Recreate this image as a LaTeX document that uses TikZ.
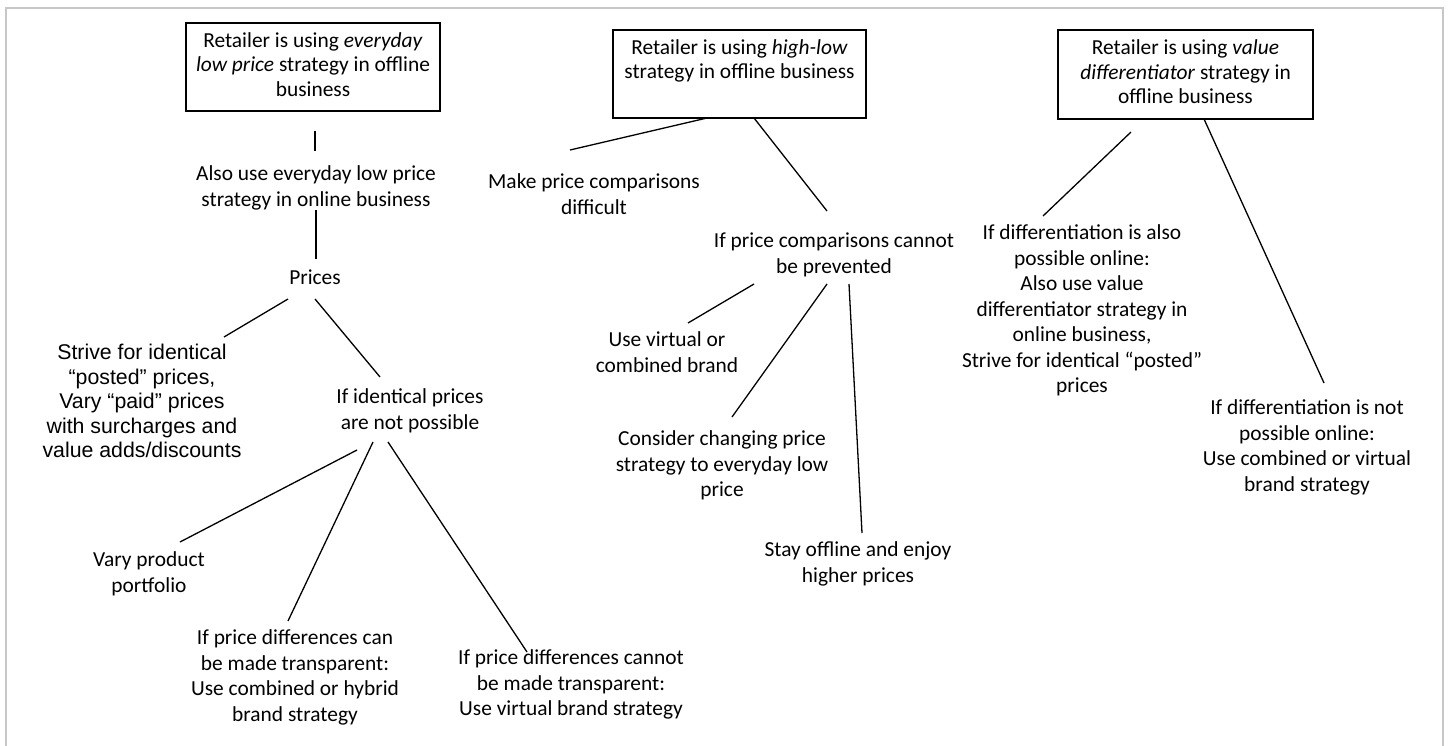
\documentclass[tikz,border=0pt]{standalone}
\usepackage{fontspec}
\setmainfont{Carlito}
\newfontfamily\arialfont{Liberation Sans}
\begin{document}
\begin{tikzpicture}[x=1pt,y=-1pt,
  txt/.style={font=\fontsize{21.4}{25.5}\selectfont, align=center, inner sep=0pt, anchor=north},
  arialtxt/.style={font=\arialfont\fontsize{21.3}{24.5}\selectfont, align=center, inner sep=0pt, anchor=north},
  box/.style={draw, line width=1.6pt, font=\fontsize{21.4}{24.5}\selectfont, align=center, inner sep=0pt},
  conn/.style={line width=1.3pt},
  frame/.style={draw=black!22, line width=2.5pt}]
\useasboundingbox (0,0) rectangle (1448,745);
\draw[frame] (6,750) -- (6,8) -- (1443,8) -- (1443,750);

% boxes
\node[box, minimum width=254pt, minimum height=88pt] (b1) at (313,67)
  {\strut Retailer is using \textit{everyday}\\\textit{low price} strategy in offline\\business\strut};
\node[box, minimum width=253pt, minimum height=88pt] (b2) at (739.5,74)
  {\strut Retailer is using \textit{high-low}\\strategy in offline business\\\strut};
\node[box, minimum width=255pt, minimum height=89pt] (b3) at (1185.5,74.5)
  {\strut Retailer is using \textit{value}\\\textit{differentiator} strategy in\\offline business\strut};

% left branch
\node[txt] (also) at (316,162.5) {\strut Also use everyday low price\\strategy in online business\strut};
\node[txt] (prices) at (315,266.5) {\strut Prices\strut};
\node[arialtxt] (strive) at (142,342.5) {\strut Strive for identical\\“posted” prices,\\Vary “paid” prices\\with surcharges and\\value adds/discounts\strut};
\node[txt] (ifident) at (410,385.5) {\strut If identical prices\\are not possible\strut};
\node[txt] (vary) at (149,548.5) {\strut Vary product\\portfolio\strut};
\node[txt] (ifcan) at (295,626.5) {\strut If price differences can\\be made transparent:\\Use combined or hybrid\\brand strategy\strut};
\node[txt] (ifcannot) at (571,646.5) {\strut If price differences cannot\\be made transparent:\\Use virtual brand strategy\strut};

% middle branch
\node[txt] (make) at (594,170.5) {\strut Make price comparisons\\difficult\strut};
\node[txt] (ifcomp) at (834,229.5) {\strut If price comparisons cannot\\be prevented\strut};
\node[txt] (usevirt) at (667,328.5) {\strut Use virtual or\\combined brand\strut};
\node[txt] (consider) at (722,427.5) {\strut Consider changing price\\strategy to everyday low\\price\strut};
\node[txt] (stay) at (858,538.5) {\strut Stay offline and enjoy\\higher prices\strut};

% right branch
\node[txt] (diffalso) at (1082,221.5) {\strut If differentiation is also\\possible online:\\Also use value\\differentiator strategy in\\online business,\\Strive for identical “posted”\\prices\strut};
\node[txt] (diffnot) at (1307,396.5) {\strut If differentiation is not\\possible online:\\Use combined or virtual\\brand strategy\strut};

% connector end points
\coordinate (b1a) at (315,131);   \coordinate (alsoa) at (315,151);
\coordinate (alsob) at (316,210); \coordinate (pricesa) at (316,259);
\coordinate (pricesb) at (288,299); \coordinate (strivea) at (224,337);
\coordinate (pricesc) at (315,299); \coordinate (identa) at (380,377);
\coordinate (identb) at (357,450); \coordinate (varya) at (180,542);
\coordinate (identc) at (373,442); \coordinate (ifcana) at (288,621);
\coordinate (identd) at (388,442); \coordinate (ifcannota) at (527,652);
\coordinate (b2a) at (707,118); \coordinate (makea) at (570,150);
\coordinate (b2b) at (754,118); \coordinate (ifcompa) at (827,211);
\coordinate (ifcompb) at (754,284); \coordinate (usevirta) at (688,323);
\coordinate (ifcompc) at (827,284); \coordinate (considera) at (732,417);
\coordinate (ifcompd) at (849,284); \coordinate (staya) at (862,533);
\coordinate (b3a) at (1131,132); \coordinate (diffalsoa) at (1043,216);
\coordinate (b3b) at (1204,119); \coordinate (diffnota) at (1324,383);

\draw[conn] (b1a) -- (alsoa);
\draw[conn] (alsob) -- (pricesa);
\draw[conn] (pricesb) -- (strivea);
\draw[conn] (pricesc) -- (identa);
\draw[conn] (identb) -- (varya);
\draw[conn] (identc) -- (ifcana);
\draw[conn] (identd) -- (ifcannota);
\draw[conn] (b2a) -- (makea);
\draw[conn] (b2b) -- (ifcompa);
\draw[conn] (ifcompb) -- (usevirta);
\draw[conn] (ifcompc) -- (considera);
\draw[conn] (ifcompd) -- (staya);
\draw[conn] (b3a) -- (diffalsoa);
\draw[conn] (b3b) -- (diffnota);
\end{tikzpicture}
\end{document}
